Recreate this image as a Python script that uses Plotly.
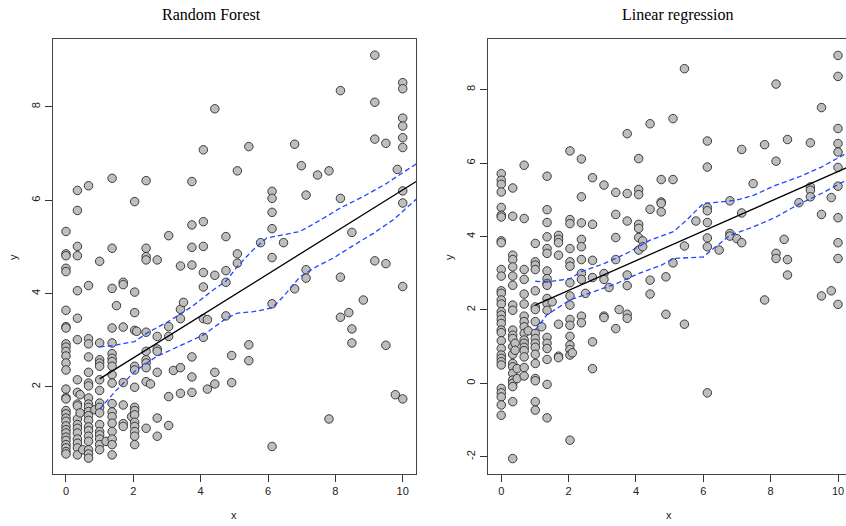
import plotly.graph_objects as go

# ---------------- Random Forest panel data ----------------
rf_levels = [0, 0.34, 0.42, 0.5, 0.67, 0.86, 1.0, 1.19, 1.37, 1.5, 1.7, 1.95, 2.04, 2.1, 2.38, 2.51,
             2.71, 3.05, 3.19, 3.40, 3.49, 3.74, 4.08, 4.2, 4.42, 4.75, 4.92, 5.09, 5.43, 5.78, 6.12,
             6.46, 6.79, 6.99, 7.13, 7.47, 7.81, 8.15, 8.40, 8.49, 8.83, 9.17, 9.50, 9.78, 9.84, 10]
rf_values = [
    [5.33, 4.85, 4.81, 4.54, 4.47, 3.64, 3.29, 3.26, 2.92, 2.85, 2.76, 2.66, 2.51, 2.36, 1.95, 1.77, 1.74,
     1.49, 1.42, 1.33, 1.26, 1.16, 1.08, 1.01, 0.92, 0.85, 0.76, 0.69, 0.61, 0.56],
    [6.21, 5.78, 5.01, 4.81, 4.06, 3.47, 3.01, 2.15, 1.88, 1.63, 1.59, 1.31, 1.19, 1.11, 1.01, 0.88, 0.79,
     0.69, 0.54],
    [1.83, 1.44],
    [0.65],
    [6.31, 4.17, 3.03, 2.92, 2.64, 2.31, 2.08, 2.02, 1.76, 1.63, 1.56, 1.47, 1.38, 1.28, 1.14, 1.06, 0.94,
     0.83, 0.65, 0.56, 0.47],
    [1.51],
    [4.69, 2.94, 2.58, 2.51, 2.44, 2.15, 1.92, 1.65, 1.56, 1.44, 1.19, 1.04, 0.97, 0.88, 0.76, 0.65],
    [0.83],
    [6.47, 4.97, 4.11, 3.26, 2.94, 2.71, 2.61, 2.54, 2.44, 2.26, 2.08, 1.64, 1.46, 1.36, 1.22, 1.04, 0.88,
     0.76, 0.54],
    [3.74],
    [4.24, 4.19, 3.28, 2.09, 1.61, 1.21, 1.15],
    [1.36],
    [5.97, 4.03, 3.59, 3.21, 2.44, 2.36, 1.99, 1.56, 1.49, 1.40, 1.24, 1.15, 1.04, 0.94, 0.76],
    [3.19],
    [6.42, 4.97, 4.79, 4.72, 3.17, 2.76, 2.58, 2.51, 2.41, 2.11, 1.11],
    [2.06],
    [4.72, 3.08, 2.81, 2.76, 2.31, 1.33, 0.94],
    [5.24, 3.29, 3.08, 1.79, 1.17],
    [2.35],
    [4.59, 3.66, 3.46, 2.41, 1.86],
    [3.81],
    [6.40, 5.47, 4.99, 4.61, 2.64, 2.21, 1.88],
    [7.08, 5.54, 5.01, 4.45, 4.14, 3.46, 3.06],
    [3.44, 1.95],
    [7.96, 4.39, 2.31, 2.06],
    [5.22, 4.49, 4.24, 3.52],
    [2.67, 2.09],
    [6.63, 4.85, 4.65],
    [7.15, 2.90, 2.56],
    [5.09],
    [6.19, 6.04, 5.74, 5.39, 4.77, 3.78, 0.72],
    [5.09],
    [7.20, 4.10],
    [6.74],
    [6.11, 4.51, 4.33],
    [6.54],
    [6.63, 1.31],
    [8.35, 6.04, 4.35, 3.49],
    [3.59],
    [5.31, 3.24, 2.94],
    [3.86],
    [9.11, 8.10, 7.31, 4.70],
    [7.22, 4.64, 2.89],
    [1.83],
    [6.66],
    [8.52, 8.39, 7.76, 7.59, 7.34, 7.13, 6.20, 5.94, 4.15, 1.74],
]
rf_fit_x = [1.0, 10.4]
rf_fit_y = [2.17, 6.40]
rf_up_x = [1.0, 1.37, 2.04, 2.4, 3.04, 3.74, 4.38, 4.75, 5.09, 5.56, 5.96, 6.46, 6.95, 7.47, 8.14, 8.83, 9.52, 10.4]
rf_up_y = [2.86, 2.88, 2.97, 3.15, 3.40, 3.72, 4.08, 4.26, 4.58, 4.94, 5.19, 5.26, 5.33, 5.54, 5.83, 6.08, 6.36, 6.78]
rf_lo_x = [1.0, 1.41, 2.04, 2.69, 3.39, 4.08, 4.77, 5.09, 5.56, 6.12, 6.46, 6.95, 7.45, 7.94, 8.49, 9.13, 9.72, 10.4]
rf_lo_y = [1.52, 1.86, 2.33, 2.65, 2.88, 3.11, 3.47, 3.58, 3.61, 3.69, 3.94, 4.36, 4.58, 4.76, 5.01, 5.29, 5.58, 6.02]

# ---------------- Linear regression panel data ----------------
lr_levels = [0, 0.34, 0.41, 0.47, 0.68, 0.8, 1.01, 1.2, 1.36, 1.51, 1.70, 2.04, 2.11, 2.38, 2.50, 2.71,
             3.05, 3.2, 3.40, 3.50, 3.74, 4.08, 4.2, 4.42, 4.75, 4.89, 5.10, 5.44, 5.78, 6.12, 6.47,
             6.79, 7.0, 7.14, 7.48, 7.82, 8.16, 8.40, 8.50, 8.84, 9.18, 9.51, 9.80, 10]
lr_values = [
    [5.71, 5.53, 5.42, 5.21, 4.79, 4.58, 4.53, 3.88, 3.83, 3.10, 2.92, 2.52, 2.45, 2.27, 2.16, 1.95, 1.86,
     1.74, 1.63, 1.45, 1.38, 1.16, 0.95, 0.77, 0.68, 0.59, 0.50, -0.14, -0.26, -0.37, -0.59, -0.87],
    [5.32, 4.55, 3.49, 3.37, 3.17, 2.92, 2.67, 2.13, 1.99, 1.45, 1.31, 1.22, 1.00, 0.79, 0.54, 0.45, 0.27,
     0.09, 0.00, -0.09, -0.50, -2.05],
    [1.09, 0.90],
    [0.40, 0.13],
    [5.94, 4.49, 3.10, 2.83, 2.43, 2.16, 1.83, 1.68, 1.54, 1.36, 1.18, 1.09, 0.98, 0.89, 0.72, 0.43, 0.20],
    [1.43],
    [3.81, 3.31, 3.22, 3.10, 2.52, 2.08, 2.01, 1.68, 1.36, 1.22, 1.09, 0.98, 0.79, 0.54, 0.13, 0.07, -0.50,
     -0.73],
    [1.54],
    [5.64, 4.73, 4.38, 3.99, 3.67, 3.54, 3.06, 2.85, 2.72, 2.67, 2.31, 2.17, 1.99, 1.25, 1.09, 0.95, 0.65,
     -0.03, -0.94],
    [2.22],
    [4.03, 3.92, 3.83, 3.49, 1.61, 0.74, 0.70],
    [6.33, 4.46, 4.35, 3.67, 3.31, 3.19, 2.74, 2.38, 2.13, 1.74, 1.58, 1.28, 1.04, 0.92, 0.77, -1.55],
    [0.83],
    [6.11, 5.08, 4.37, 3.92, 3.72, 3.37, 2.99, 2.83, 1.83, 1.65],
    [2.45],
    [5.60, 4.33, 3.35, 2.88, 1.13, 0.40],
    [5.40, 2.99, 2.83, 1.83, 1.79],
    [2.61],
    [5.20, 4.60, 3.97, 3.37, 1.49],
    [2.01],
    [6.80, 5.17, 4.42, 2.95, 2.66, 1.88, 1.77],
    [6.12, 5.28, 5.14, 4.33, 4.22, 3.97, 3.63],
    [3.88, 3.72],
    [7.07, 4.74, 2.81, 2.43],
    [5.55, 4.94, 4.90, 4.67],
    [2.90, 1.88],
    [7.21, 5.55, 3.28],
    [8.57, 3.74, 1.61],
    [4.42],
    [6.60, 5.89, 4.79, 4.70, 4.38, 3.96, 3.72, -0.26],
    [3.63],
    [4.97, 4.08, 4.01],
    [3.94],
    [6.37, 4.64, 3.83],
    [5.44],
    [6.50, 2.27],
    [8.15, 6.05, 3.54, 3.40],
    [3.92],
    [6.64, 3.37, 2.95],
    [4.92],
    [6.55, 5.35, 5.26, 5.08],
    [7.51, 4.60, 2.38],
    [5.06, 2.52],
    [8.93, 8.36, 6.94, 6.53, 6.30, 5.88, 5.37, 4.51, 3.83, 3.40, 2.15],
]
lr_fit_x = [1.01, 10.4]
lr_fit_y = [2.13, 5.93]
lr_up_x = [1.01, 1.36, 2.04, 2.38, 3.05, 3.72, 4.42, 5.11, 5.5, 6.0, 6.5, 6.99, 7.49, 8.16, 8.84, 9.51, 10.24, 10.4]
lr_up_y = [2.78, 2.76, 2.85, 3.04, 3.26, 3.54, 3.90, 4.13, 4.44, 4.90, 4.94, 4.99, 5.12, 5.40, 5.62, 5.89, 6.26, 6.33]
lr_lo_x = [1.01, 1.35, 2.04, 2.73, 3.43, 4.08, 4.76, 5.11, 6.0, 6.3, 6.79, 7.49, 8.16, 8.84, 9.51, 10.24, 10.4]
lr_lo_y = [1.45, 1.86, 2.27, 2.49, 2.72, 2.99, 3.22, 3.40, 3.44, 3.67, 4.03, 4.26, 4.53, 4.88, 5.17, 5.53, 5.60]


def flatten(levels, values):
    xs, ys = [], []
    for lv, vals in zip(levels, values):
        for v in vals:
            xs.append(lv)
            ys.append(v)
    return xs, ys


W, H = 846, 526
rf_x, rf_y = flatten(rf_levels, rf_values)
lr_x, lr_y = flatten(lr_levels, lr_values)

fig = go.Figure()
marker = dict(size=8.5, color="#BEBEBE", line=dict(color="#2a2a2a", width=0.9))
blue = "#2346ff"

for xs, ys, fx, fy, ux, uy, lx, ly, xa, ya in [
    (rf_x, rf_y, rf_fit_x, rf_fit_y, rf_up_x, rf_up_y, rf_lo_x, rf_lo_y, "x", "y"),
    (lr_x, lr_y, lr_fit_x, lr_fit_y, lr_up_x, lr_up_y, lr_lo_x, lr_lo_y, "x2", "y2"),
]:
    fig.add_trace(go.Scatter(x=xs, y=ys, mode="markers", marker=marker, xaxis=xa, yaxis=ya,
                             showlegend=False, hoverinfo="skip", cliponaxis=True))
    fig.add_trace(go.Scatter(x=fx, y=fy, mode="lines", line=dict(color="black", width=1.3),
                             xaxis=xa, yaxis=ya, showlegend=False))
    fig.add_trace(go.Scatter(x=ux, y=uy, mode="lines", line=dict(color=blue, width=1.3, dash="5px,3px"),
                             xaxis=xa, yaxis=ya, showlegend=False))
    fig.add_trace(go.Scatter(x=lx, y=ly, mode="lines", line=dict(color=blue, width=1.3, dash="5px,3px"),
                             xaxis=xa, yaxis=ya, showlegend=False))

tickfont = dict(family="Liberation Sans, Arial, sans-serif", size=11, color="#222")
common = dict(showgrid=False, zeroline=False, ticks="outside", ticklen=7, tickwidth=1, tickcolor="#333",
              linecolor="#444", linewidth=1, tickfont=tickfont, showline=True)

ydom = [(H - 474) / H, (H - 39.3) / H]
fig.update_layout(
    width=W, height=H, margin=dict(l=0, r=0, t=0, b=0),
    paper_bgcolor="white", plot_bgcolor="white",
    xaxis=dict(domain=[52.5 / W, 416.2 / W], range=[-0.4, 10.4], anchor="y", mirror=True,
               tickvals=[0, 2, 4, 6, 8, 10], ticktext=["0", "2", "4", "6", "8", "10"], **common),
    yaxis=dict(domain=ydom, range=[0.13, 9.45], anchor="x", mirror=True, tickangle=-90,
               tickvals=[2, 4, 6, 8], ticktext=["2", "4", "6", "8"], **common),
    xaxis2=dict(domain=[487.8 / W, 1.0], range=[-0.4, (W - 501.3) / 33.67], anchor="y2", mirror=True,
                tickvals=[0, 2, 4, 6, 8, 10], ticktext=["0", "2", "4", "6", "8", "10"], **common),
    yaxis2=dict(domain=ydom, range=[-2.47, 9.37], anchor="x2", mirror=False, tickangle=-90,
                tickvals=[-2, 0, 2, 4, 6, 8], ticktext=["-2", "0", "2", "4", "6", "8"], **common),
)

serif = dict(family="Liberation Serif, Times New Roman, serif", size=16, color="black")
lab = dict(family="Liberation Sans, Arial, sans-serif", size=11, color="#222")
annots = [
    dict(text="Random Forest", x=211 / W, y=1 - 15 / H, font=serif),
    dict(text="Linear regression", x=678 / W, y=1 - 15 / H, font=serif),
    dict(text="x", x=234 / W, y=1 - 515 / H, font=lab),
    dict(text="x", x=669 / W, y=1 - 515 / H, font=lab),
    dict(text="y", x=13 / W, y=1 - 257 / H, font=lab, textangle=-90),
    dict(text="y", x=449 / W, y=1 - 257 / H, font=lab, textangle=-90),
]
for a in annots:
    fig.add_annotation(xref="paper", yref="paper", xanchor="center", yanchor="middle",
                       showarrow=False, **a)

fig.write_html("out.html")
